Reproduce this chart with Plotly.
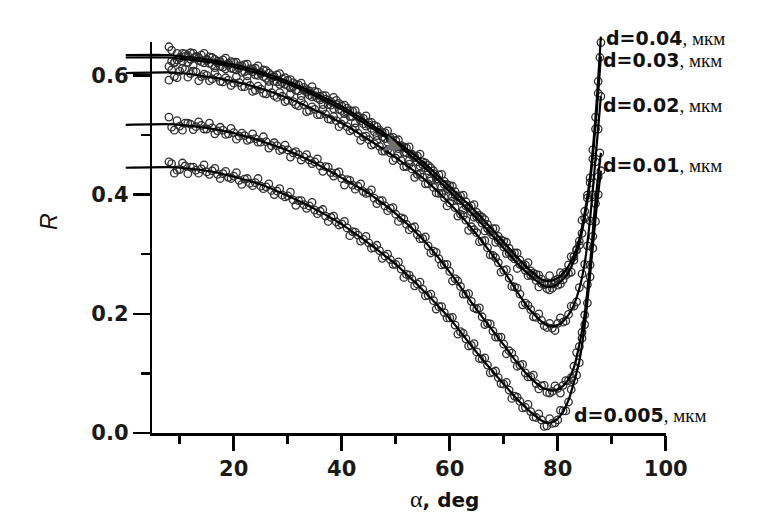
import plotly.graph_objects as go

# ---------------- data ----------------
SERIES = ["0.04", "0.03", "0.02", "0.01", "0.005"]

# measured angles (deg) for the marker points (whole degrees)
ANGLES = [8, 9, 10, 11, 12, 13, 14, 15, 16, 17, 18, 19, 20, 21, 22, 23, 24, 25,
          26, 27, 28, 29, 30, 31, 32, 33, 34, 35, 36, 37, 38, 39, 40, 41, 42, 43,
          44, 45, 46, 47, 48, 49, 50, 51, 52, 53, 54, 55, 56, 57, 58, 59, 60, 61,
          62, 63, 64, 65, 66, 67, 68, 69, 70, 71, 72, 73, 74, 75, 76, 77, 78, 79,
          80, 81, 82, 83, 84, 85, 86]
# measured angles in between (half degrees)
ANGLES_H = [8.5, 9.5, 10.5, 11.5, 12.5, 13.5, 14.5, 15.5, 16.5, 17.5, 18.5, 19.5, 20.5,
            21.5, 22.5, 23.5, 24.5, 25.5, 26.5, 27.5, 28.5, 29.5, 30.5, 31.5, 32.5, 33.5,
            34.5, 35.5, 36.5, 37.5, 38.5, 39.5, 40.5, 41.5, 42.5, 43.5, 44.5, 45.5, 46.5,
            47.5, 48.5, 49.5, 50.5, 51.5, 52.5, 53.5, 54.5, 55.5, 56.5, 57.5, 58.5, 59.5,
            60.5, 61.5, 62.5, 63.5, 64.5, 65.5, 66.5, 67.5, 68.5, 69.5, 70.5, 71.5, 72.5,
            73.5, 74.5, 75.5, 76.5, 77.5, 78.5, 79.5, 80.5, 81.5, 82.5, 83.5, 84.5, 85.5]

R_004 = [.648, .622, .630, .636, .638, .632, .634, .627, .630, .624, .626, .620, .622, .616,
         .618, .611, .612, .605, .608, .600, .601, .594, .592, .588, .584, .580, .574, .573,
         .565, .566, .556, .558, .549, .545, .540, .532, .528, .521, .516, .508, .504, .495,
         .491, .482, .478, .468, .465, .455, .449, .440, .433, .422, .415, .405, .398, .388,
         .381, .370, .362, .350, .343, .330, .322, .310, .302, .290, .282, .272, .266, .258,
         .252, .250, .258, .266, .282, .296, .322, .372, .428]
R_004H = [.642, .626, .637, .622, .637, .625, .637, .620, .627, .615, .629, .612, .622, .605,
          .619, .606, .616, .598, .604, .590, .603, .585, .593, .575, .587, .572, .581, .562,
          .566, .551, .563, .543, .550, .531, .541, .524, .532, .511, .514, .497, .507, .486,
          .492, .471, .480, .462, .468, .445, .445, .426, .434, .410, .414, .391, .399, .379,
          .383, .359, .358, .337, .343, .318, .320, .296, .302, .282, .286, .263, .265, .249,
          .264, .251, .269, .265, .296, .308, .357, .394]
R_003 = [.615, .621, .629, .632, .627, .630, .623, .625, .618, .621, .614, .617, .611, .612,
         .606, .608, .601, .603, .595, .596, .589, .588, .583, .581, .574, .575, .567, .566,
         .559, .560, .550, .551, .541, .540, .531, .530, .519, .517, .506, .505, .494, .492,
         .483, .479, .470, .466, .455, .450, .440, .435, .424, .417, .407, .399, .390, .381,
         .371, .363, .352, .343, .332, .323, .312, .302, .292, .283, .273, .265, .256, .251,
         .242, .243, .248, .257, .268, .290, .315, .360, .420]
R_003H = [.624, .637, .624, .633, .617, .630, .621, .631, .613, .623, .611, .623, .609, .616,
          .599, .611, .600, .609, .590, .598, .585, .596, .579, .585, .566, .576, .564, .572,
          .551, .558, .544, .553, .536, .541, .520, .528, .515, .521, .499, .504, .488, .496,
          .477, .480, .457, .464, .448, .453, .427, .430, .412, .417, .396, .397, .374, .379,
          .362, .365, .339, .340, .320, .324, .301, .301, .276, .281, .264, .268, .245, .251,
          .240, .256, .250, .270, .270, .307, .335, .399]
R_002 = [.592, .598, .607, .610, .603, .606, .598, .600, .594, .597, .589, .592, .587, .588,
         .581, .583, .575, .577, .569, .571, .563, .565, .558, .556, .549, .551, .541, .543,
         .534, .535, .526, .524, .518, .514, .509, .503, .497, .492, .485, .481, .473, .470,
         .461, .457, .447, .443, .434, .429, .418, .412, .402, .395, .386, .378, .367, .357,
         .346, .336, .322, .311, .298, .286, .273, .260, .245, .233, .218, .207, .194, .189,
         .177, .176, .184, .186, .199, .213, .244, .283, .356]
R_002H = [.609, .596, .612, .597, .607, .591, .602, .591, .604, .590, .596, .583, .598, .581,
          .590, .573, .582, .570, .581, .566, .571, .556, .569, .551, .558, .539, .547, .534,
          .543, .527, .531, .514, .526, .507, .512, .491, .498, .483, .491, .473, .475, .457,
          .468, .447, .451, .429, .434, .418, .423, .403, .402, .381, .389, .364, .365, .340,
          .341, .321, .323, .299, .294, .270, .274, .246, .243, .215, .214, .195, .200, .180,
          .184, .172, .193, .188, .213, .220, .267, .314]
R_001 = [.530, .508, .515, .520, .518, .514, .516, .510, .512, .507, .508, .502, .504, .498,
         .499, .493, .494, .488, .489, .482, .482, .476, .475, .470, .467, .463, .458, .455,
         .448, .447, .437, .436, .427, .425, .416, .414, .405, .403, .394, .390, .381, .377,
         .367, .361, .350, .344, .333, .326, .314, .305, .292, .283, .271, .259, .246, .233,
         .221, .208, .195, .184, .171, .161, .149, .138, .124, .114, .101, .094, .083, .079,
         .068, .070, .075, .080, .088, .112, .145, .198, .282]
R_001H = [.513, .524, .508, .520, .509, .522, .510, .520, .502, .513, .501, .511, .493, .503,
          .491, .502, .488, .497, .478, .487, .474, .483, .463, .472, .458, .467, .452, .460,
          .439, .446, .431, .438, .416, .424, .409, .418, .402, .408, .385, .390, .373, .378,
          .355, .359, .341, .346, .326, .329, .302, .303, .282, .283, .255, .255, .233, .234,
          .210, .210, .182, .183, .161, .161, .133, .134, .112, .115, .094, .097, .074, .080,
          .067, .079, .067, .088, .093, .135, .169, .249]
R_0005 = [.455, .436, .442, .448, .446, .441, .443, .438, .440, .434, .435, .429, .431, .424,
          .426, .419, .420, .414, .413, .407, .406, .399, .398, .391, .390, .383, .381, .374,
          .372, .364, .362, .354, .351, .344, .338, .332, .325, .319, .311, .306, .297, .291,
          .283, .275, .266, .258, .250, .241, .231, .222, .212, .202, .193, .181, .170, .158,
          .147, .136, .124, .114, .102, .093, .082, .072, .062, .053, .043, .036, .026, .022,
          .012, .016, .022, .037, .052, .088, .118, .182, .262]
R_0005H = [.452, .441, .453, .435, .446, .436, .450, .434, .444, .427, .439, .427, .437, .417,
           .427, .415, .427, .410, .418, .400, .410, .396, .404, .382, .390, .377, .387, .368,
           .375, .355, .364, .349, .355, .331, .337, .322, .330, .310, .315, .293, .300, .283,
           .287, .261, .265, .247, .253, .230, .233, .208, .212, .193, .194, .166, .167, .146,
           .150, .125, .126, .101, .104, .083, .085, .058, .060, .042, .048, .027, .032, .011,
           .024, .017, .038, .037, .073, .097, .159, .218]
MARKERS = [R_004, R_003, R_002, R_001, R_0005]
MARKERS_H = [R_004H, R_003H, R_002H, R_001H, R_0005H]

# points on the steep rise near grazing incidence
TAIL_X = [[86.5, 87, 87.5, 88], [86.5, 87, 87.5, 87.8], [86.5, 87, 87.5, 88],
          [86.5, 87, 87.5, 87.8], [86.5, 87, 87.5, 88]]
TAIL_R = [[.475, .53, .59, .655], [.46, .51, .57, .63], [.40, .455, .51, .565],
          [.33, .385, .43, .47], [.31, .355, .40, .44]]

# fitted curves (key points)
FIT_X = [0, 8, 10, 15, 20, 25, 30, 35, 40, 45, 50, 55, 60, 65, 70, 73, 75, 77, 78,
         79, 80, 81, 82, 83, 84, 85, 86, 87, 88]
FIT_004 = [.634, .634, .632, .627, .618, .606, .590, .570, .548, .520, .490, .455, .413, .370,
           .320, .290, .272, .258, .255, .256, .260, .268, .280, .298, .325, .370, .430, .530, .665]
FIT_003 = [.630, .630, .628, .623, .614, .602, .586, .566, .543, .515, .485, .448, .405, .360,
           .310, .280, .263, .249, .245, .246, .250, .258, .270, .289, .317, .362, .422, .515, .632]
FIT_002 = [.604, .605, .604, .598, .590, .578, .562, .542, .520, .492, .462, .428, .385, .333,
           .272, .230, .205, .187, .181, .179, .181, .187, .198, .215, .242, .285, .360, .460, .565]
FIT_001 = [.517, .518, .517, .512, .503, .490, .474, .453, .428, .402, .368, .325, .270, .207,
           .148, .112, .092, .077, .073, .071, .073, .079, .090, .110, .148, .200, .285, .390, .470]
FIT_0005 = [.445, .446, .445, .440, .430, .417, .398, .376, .350, .318, .283, .240, .192, .135,
            .082, .052, .035, .021, .017, .018, .024, .036, .055, .085, .120, .180, .265, .360, .440]
FITS = [FIT_004, FIT_003, FIT_002, FIT_001, FIT_0005]

X_TICKS = [20, 40, 60, 80, 100]
Y_TICKS = [0.0, 0.2, 0.4, 0.6]
ARROW_AT = (49.5, 0.484)

# ---------------- layout geometry ----------------
W, H = 763, 522
L, R, T, B = 100, 20, 15, 75
PW, PH = W - L - R, H - T - B
XR = [4.9, 100.0]
YR = [0.0, 0.656]
X0PX, X1PX = 152.2, 665.7
Y0PX, Y1PX = 433.0, 42.0


def xd(px):
    return (px - L) / PW


def yd(py):
    return (H - B - py) / PH


sx = (X1PX - X0PX) / (XR[1] - XR[0])
sy = (Y0PX - Y1PX) / (YR[1] - YR[0])
X2R = [XR[0] + (L - X0PX) / sx, XR[0] + (W - R - X0PX) / sx]
Y2R = [YR[0] + (Y0PX - (H - B)) / sy, YR[0] + (Y0PX - T) / sy]

fig = go.Figure()
fig.add_trace(go.Scatter(x=[None], y=[None], xaxis="x", yaxis="y",
                         showlegend=False, hoverinfo="skip"))

marker_style = dict(symbol="circle-open", size=7.5, color="#2e2e2e",
                    line=dict(width=1.3, color="#2e2e2e"))
for i, name in enumerate(SERIES):
    fig.add_trace(go.Scatter(
        x=ANGLES + ANGLES_H + TAIL_X[i],
        y=MARKERS[i] + MARKERS_H[i] + TAIL_R[i], mode="markers",
        xaxis="x2", yaxis="y2", showlegend=False, cliponaxis=False,
        marker=marker_style))
for i, name in enumerate(SERIES):
    fig.add_trace(go.Scatter(
        x=FIT_X, y=FITS[i], mode="lines", xaxis="x2", yaxis="y2",
        showlegend=False, line=dict(color="black", width=2.2, shape="spline",
                                    smoothing=0.8)))

tickfont = dict(family="DejaVu Sans", size=21, color="#1a1a1a", weight="bold")

fig.update_layout(
    template="none",
    width=W, height=H, margin=dict(l=L, r=R, t=T, b=B, autoexpand=False),
    paper_bgcolor="white", plot_bgcolor="rgba(0,0,0,0)",
    showlegend=False,
    xaxis=dict(domain=[xd(X0PX), xd(X1PX)], range=XR, anchor="y",
               automargin=False,
               showline=True, linecolor="black", linewidth=2.5,
               ticks="outside", ticklen=15, tickwidth=2.5, tickcolor="black",
               tickvals=X_TICKS, ticktext=[str(v) for v in X_TICKS],
               tickfont=tickfont, showgrid=False, zeroline=False,
               minor=dict(ticks="outside", ticklen=8, tickwidth=2.5,
                          tickcolor="black", dtick=10, tick0=0, showgrid=False)),
    yaxis=dict(domain=[yd(Y0PX), yd(Y1PX)], range=YR, anchor="x",
               automargin=False,
               showline=True, linecolor="black", linewidth=2.5,
               ticks="outside", ticklen=17, tickwidth=2.5, tickcolor="black",
               tickvals=Y_TICKS, ticktext=[f"{v:.1f}" for v in Y_TICKS],
               tickfont=tickfont, showgrid=False, zeroline=False,
               minor=dict(ticks="outside", ticklen=9, tickwidth=2.5,
                          tickcolor="black", dtick=0.1, tick0=0, showgrid=False)),
    xaxis2=dict(domain=[0, 1], range=X2R, anchor="y2", visible=False,
                automargin=False, showgrid=False, zeroline=False),
    yaxis2=dict(domain=[0, 1], range=Y2R, anchor="x2", visible=False,
                automargin=False, showgrid=False, zeroline=False),
)

# curve labels
LABEL_POS = {"0.04": (604, 38), "0.03": (601, 60), "0.02": (601, 105),
             "0.01": (601, 165), "0.005": (572, 415)}
for name in SERIES:
    px, py = LABEL_POS[name]
    fig.add_annotation(
        x=xd(px), y=yd(py), xref="paper", yref="paper", xanchor="left",
        yanchor="middle", showarrow=False,
        text=f"<b>d={name}</b><span style='font-family:Liberation Serif;"
             f"font-size:19px;font-weight:normal'>, мкм</span>",
        font=dict(family="DejaVu Sans", size=19, color="#111111"))

# axis titles
fig.add_annotation(
    x=xd(444), y=yd(499), xref="paper", yref="paper", xanchor="center",
    yanchor="middle", showarrow=False,
    text="<span style='font-family:Liberation Serif;font-size:24px'>α</span>"
         "<b>, deg</b>",
    font=dict(family="DejaVu Sans", size=20, color="#111111"))
fig.add_annotation(
    x=xd(49), y=yd(222), xref="paper", yref="paper", xanchor="center",
    yanchor="middle", showarrow=False, textangle=-90, text="<i>R</i>",
    font=dict(family="Liberation Sans", size=23, color="#111111"))

# gray pointer mark
fig.add_annotation(x=ARROW_AT[0], y=ARROW_AT[1], xref="x2", yref="y2",
                   showarrow=False, text="➤", textangle=20,
                   font=dict(family="DejaVu Sans", size=26, color="#707070"))

# remove the browser's default page margin so the figure sits at the top-left corner
fig.write_html("out.html",
               config={"displayModeBar": False, "staticPlot": True},
               post_script="document.body.style.margin='0px';"
                           "document.body.style.overflow='hidden';")
